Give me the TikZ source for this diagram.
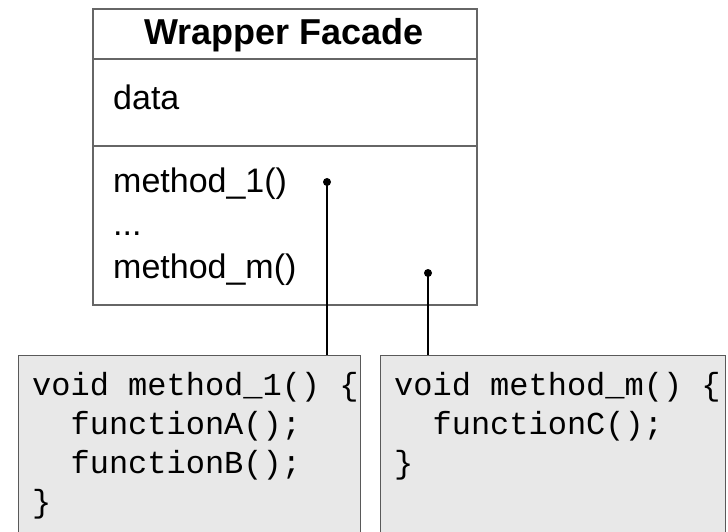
\documentclass[tikz,border=0pt]{standalone}
\usepackage{fontspec}
\setmainfont{Liberation Sans}
\newfontfamily\codefont{Liberation Mono}
\begin{document}
\begin{tikzpicture}[x=1pt,y=1pt,
  frame/.style={draw=black!60, line width=1.6pt, rectangle, inner sep=0pt, anchor=north west},
  codebox/.style={draw=black!65, line width=1pt, fill=black!9, rectangle, inner sep=0pt, anchor=north west},
  label/.style={anchor=base west, inner sep=0pt, font=\fontsize{34}{40}\selectfont},
  code/.style={anchor=base west, inner sep=0pt, font=\codefont\fontsize{32}{39}\selectfont},
  link/.style={draw=black, line width=1.2pt},
  pin/.style={circle, fill=black, minimum size=8pt, inner sep=0pt}]
\useasboundingbox (0,0) rectangle (728,531);
\clip (0,0) rectangle (728,531);

% class box: name, attributes, operations
\node[frame, minimum width=384pt, minimum height=50pt]  (head) at (92,523) {};
\node[frame, minimum width=384pt, minimum height=87pt]  (attr) at (92,473) {};
\node[frame, minimum width=384pt, minimum height=159pt] (ops)  at (92,386) {};

\node[anchor=base, inner sep=0pt, font=\bfseries\fontsize{36}{40}\selectfont] (title) at (284,486) {Wrapper Facade};
\node[label] (data) at (113,421) {data};
\node[label] (m1)   at (113,338) {method\_1()};
\node[label] (dots) at (113,296) {...};
\node[label] (mm)   at (113,253) {method\_m()};

% implementation boxes
\node[codebox, minimum width=342pt, minimum height=200pt] (impl1) at (18,176) {};
\node[codebox, minimum width=345pt, minimum height=200pt] (implm) at (380,176) {};

\node[code] (a1) at (32,136) {void method\_1() \{};
\node[code] (a2) at (32,97)  {\ \ functionA();};
\node[code] (a3) at (32,58)  {\ \ functionB();};
\node[code] (a4) at (32,19)  {\}};

\node[code] (b1) at (394,136) {void method\_m() \{};
\node[code] (b2) at (394,97)  {\ \ functionC();};
\node[code] (b3) at (394,58)  {\}};

% links from the operations to their bodies
\node[pin] (p1) at (327,349) {};
\node[pin] (pm) at (428,258) {};
\coordinate (t1) at (327,176);
\coordinate (tm) at (428,176);
\draw[link] (p1.center) -- (t1);
\draw[link] (pm.center) -- (tm);
\end{tikzpicture}
\end{document}
